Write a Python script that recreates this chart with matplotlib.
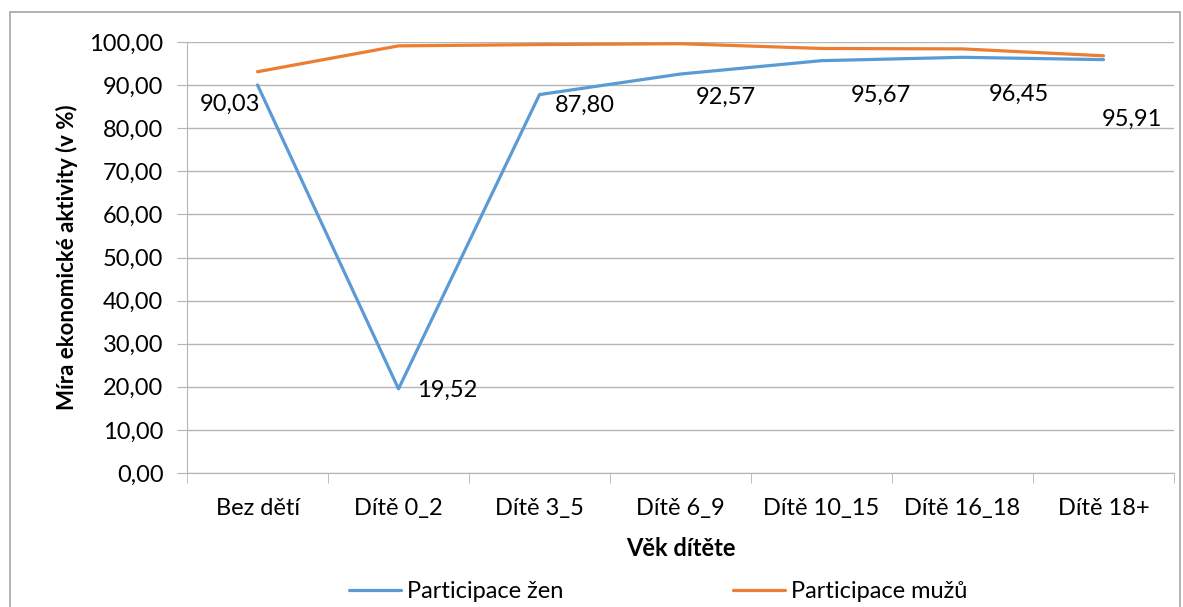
import matplotlib.pyplot as plt
from matplotlib.patches import Rectangle
from matplotlib.ticker import FuncFormatter

plt.rcParams['font.family'] = ['Lato', 'DejaVu Sans']

categories = ["Bez dětí", "Dítě 0_2", "Dítě 3_5", "Dítě 6_9",
              "Dítě 10_15", "Dítě 16_18", "Dítě 18+"]
zeny = [90.03, 19.52, 87.80, 92.57, 95.67, 96.45, 95.91]
muzi = [93.1, 99.1, 99.4, 99.6, 98.5, 98.4, 96.8]

# label offsets in points for the women's series
label_offsets = [(-20, -14), (13, -1), (11, -8), (11, -17), (21, -25), (19, -27), (-1, -43)]
label_ha = ["center", "left", "left", "left", "left", "left", "left"]

BLUE = "#5b9bd5"
ORANGE = "#ed7d31"
GRID = "#b5b5b5"
FS = 17


def fmt(v, pos=None):
    return ("%.2f" % v).replace(".", ",")


fig = plt.figure(figsize=(11.83, 6.07), dpi=100)
fig.patches.append(Rectangle((10 / 1183, -0.02), 1170 / 1183, 1 - 12 / 607 + 0.02,
                             transform=fig.transFigure, fill=False,
                             edgecolor="#a6a6a6", linewidth=1.2))

ax = fig.add_axes([187 / 1183, 1 - 473 / 607, 987 / 1183, 431 / 607])
x = list(range(len(categories)))
ax.plot(x, zeny, color=BLUE, linewidth=2.3, label="Participace žen", solid_capstyle="round")
ax.plot(x, muzi, color=ORANGE, linewidth=2.3, label="Participace mužů", solid_capstyle="round")

for i, v in enumerate(zeny):
    ax.annotate(fmt(v), (i, v), xytext=label_offsets[i], textcoords="offset points",
                ha=label_ha[i], va="center", fontsize=FS)

ax.set_xlim(-0.5, len(categories) - 0.5)
ax.set_ylim(0, 100)
ax.set_yticks(range(0, 101, 10))
ax.yaxis.set_major_formatter(FuncFormatter(fmt))
ax.set_xticks(x)
ax.set_xticklabels(categories)
ax.set_xticks([i - 0.5 for i in range(len(categories) + 1)], minor=True)
ax.tick_params(axis="x", which="major", length=0, pad=18, labelsize=FS)
ax.tick_params(axis="x", which="minor", length=7, color=GRID, direction="out")
ax.tick_params(axis="y", length=7, color=GRID, pad=10, labelsize=FS)

ax.grid(axis="y", color=GRID, linewidth=1)
ax.set_axisbelow(True)
for s in ["top", "right"]:
    ax.spines[s].set_visible(False)
for s in ["left", "bottom"]:
    ax.spines[s].set_color(GRID)

ax.set_ylabel("Míra ekonomické aktivity (v %)", fontsize=16, fontweight="bold")
ax.yaxis.set_label_coords(-0.110, 0.5)
ax.set_xlabel("Věk dítěte", fontsize=FS, fontweight="bold", labelpad=13)

fig.legend(loc="center", bbox_to_anchor=(658 / 1183, 1 - 592 / 607), ncol=2,
           frameon=False, fontsize=FS, handlelength=2.2, handletextpad=0.25,
           columnspacing=7.2)

fig.savefig("out.png", dpi=100)
